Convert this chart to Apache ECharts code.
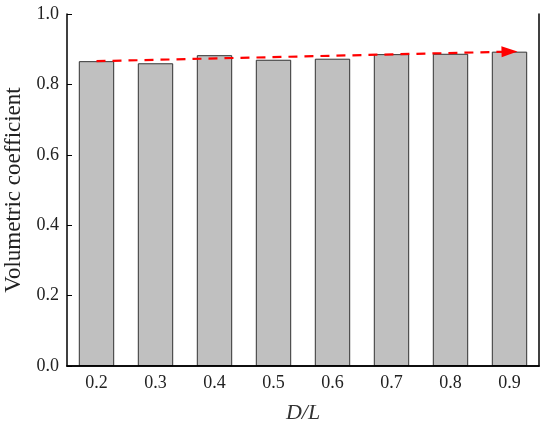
<!DOCTYPE html>
<html><head><meta charset="utf-8">
<script src="https://cdn.jsdelivr.net/npm/echarts@6/dist/echarts.min.js"></script>
<style>html,body{margin:0;padding:0;background:#fff}#c{width:550px;height:429px}</style>
</head><body><div id="c"></div>
<script>
const categories = ['0.2','0.3','0.4','0.5','0.6','0.7','0.8','0.9'];
const values = [0.866, 0.860, 0.883, 0.870, 0.873, 0.886, 0.887, 0.893];
const trendStart = ['0.2', 0.866];
const trendEnd = ['0.9', 0.893];

const font = 'Liberation Serif';
const chart = echarts.init(document.getElementById('c'), null, {renderer:'canvas'});
chart.setOption({
  animation: false,
  grid: {left: 67, right: 11, top: 14, bottom: 63, containLabel: false, outerBoundsMode: 'none'},
  xAxis: [{
    type: 'category', data: categories, z: 5,
    name: 'D/L', nameLocation: 'middle', nameGap: 36,
    nameTextStyle: {fontFamily: font, fontSize: 22, fontStyle: 'italic', color: '#333'},
    axisLine: {lineStyle: {color: '#000', width: 1.5}},
    axisTick: {inside: true, alignWithLabel: true, length: 5, lineStyle: {color: '#000'}},
    axisLabel: {fontFamily: font, fontSize: 18, color: '#222', margin: 8},
  }, {
    type: 'category', data: categories, position: 'top', z: 5,
    axisLine: {lineStyle: {color: '#000', width: 1.5}},
    axisTick: {show: false}, axisLabel: {show: false}
  }],
  yAxis: [{
    type: 'value', min: 0, max: 1.0, interval: 0.2, z: 5,
    name: 'Volumetric coefficient', nameLocation: 'middle', nameGap: 36,
    nameTextStyle: {fontFamily: font, fontSize: 23, color: '#222'},
    axisLine: {show: true, lineStyle: {color: '#000', width: 1.5}},
    axisTick: {show: true, inside: true, length: 5, lineStyle: {color: '#000'}},
    axisLabel: {fontFamily: font, fontSize: 18, color: '#222', margin: 8,
      formatter: v => v.toFixed(1)},
    splitLine: {show: false}
  }, {
    type: 'value', min: 0, max: 1.0, interval: 0.2, position: 'right', z: 5,
    axisLine: {show: true, lineStyle: {color: '#000', width: 1.5}},
    axisTick: {show: false}, axisLabel: {show: false}, splitLine: {show: false}
  }],
  series: [{
    type: 'bar', data: values, barWidth: '60%',
    itemStyle: {color: '#c0c0c0', borderColor: '#333', borderWidth: 1},
    markLine: {
      silent: true, symbol: ['none', 'triangle'], symbolSize: [11, 16],
      label: {show: false},
      lineStyle: {color: '#ff0000', type: [9, 7], width: 2.2},
      data: [[{coord: trendStart}, {coord: trendEnd}]]
    }
  }]
});
</script></body></html>
